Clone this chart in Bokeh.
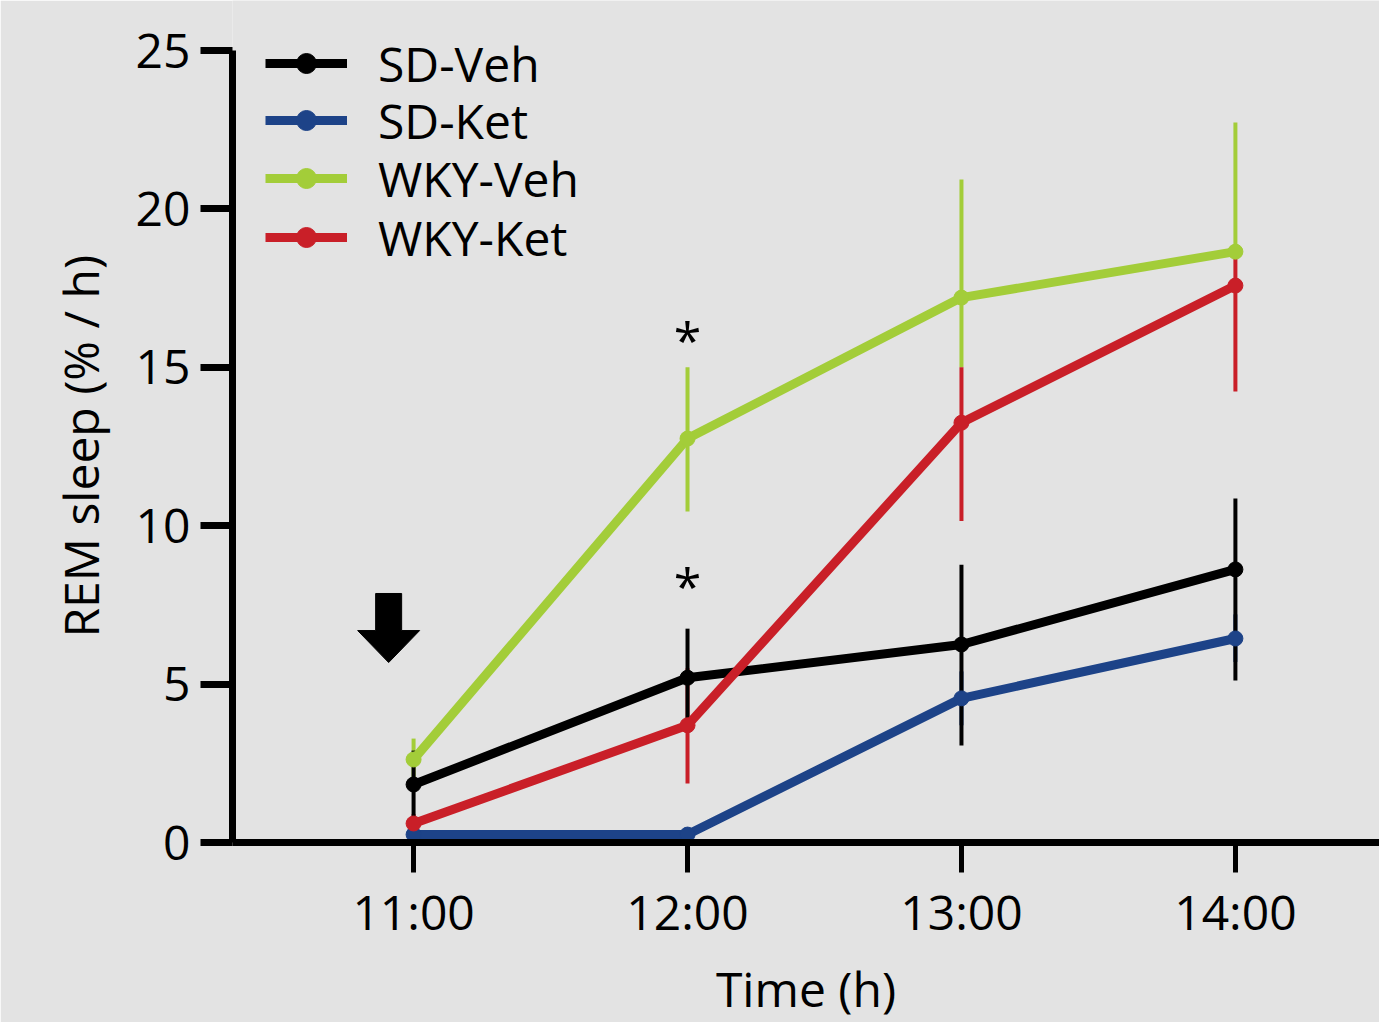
from bokeh.plotting import figure
from bokeh.models import Legend, LegendItem, FixedTicker, ColumnDataSource, Title
from bokeh.core.properties import value
from bokeh.embed import file_html
from bokeh.resources import INLINE

# ---- data ----
times = [11, 12, 13, 14]
time_labels = ["11:00", "12:00", "13:00", "14:00"]
series_names = ["SD-Veh", "SD-Ket", "WKY-Veh", "WKY-Ket"]

sd_veh = [1.83, 5.2, 6.25, 8.62]
sd_veh_hi = [2.9, 6.75, 8.77, 10.86]
sd_veh_lo = [0.8, 3.65, 3.06, 5.11]

sd_ket = [0.25, 0.25, 4.55, 6.44]
sd_ket_hi = [0.3, 0.3, 5.4, 7.2]
sd_ket_lo = [0.2, 0.2, 3.7, 5.7]

wky_veh = [2.62, 12.75, 17.2, 18.65]
wky_veh_hi = [3.28, 15.0, 20.93, 22.73]
wky_veh_lo = [1.96, 10.45, 15.0, 18.65]

wky_ket = [0.6, 3.7, 13.25, 17.58]
wky_ket_hi = [0.9, 5.5, 15.0, 18.6]
wky_ket_lo = [0.3, 1.86, 10.15, 14.24]

y_ticks = [0, 5, 10, 15, 20, 25]

star_x = [12, 12]
star_y = [15.85, 8.1]

arrow_x = 10.909
arrow_top = 7.86
arrow_base = 6.69
arrow_tip = 5.68

# ---- styles ----
BG = "#e3e3e3"
colors = {"SD-Veh": "#000000", "SD-Ket": "#1d4388", "WKY-Veh": "#a3cd39", "WKY-Ket": "#c91f28"}
FONT = "Open Sans"
FRAME_H = 842
PX_PER_UNIT = 792 / 25.0

p = figure(width=1379, height=1022, output_backend="svg", toolbar_location=None,
           x_range=(10.339, 14.526), y_range=(0, FRAME_H / PX_PER_UNIT),
           frame_width=1147, frame_height=FRAME_H,
           min_border_left=232, min_border_right=0, min_border_top=0, min_border_bottom=180)
p.background_fill_color = BG
p.border_fill_color = BG
p.outline_line_color = None
p.xgrid.grid_line_color = None
p.ygrid.grid_line_color = None

# axes
p.xaxis.ticker = FixedTicker(ticks=times)
p.xaxis.major_label_overrides = {t: l for t, l in zip(times, time_labels)}
p.yaxis.ticker = FixedTicker(ticks=y_ticks)
p.yaxis.bounds = (y_ticks[0], y_ticks[-1])
for ax in (p.xaxis[0], p.yaxis[0]):
    ax.axis_line_color = "black"
    ax.axis_line_width = 7
    ax.major_tick_line_color = "black"
    ax.minor_tick_line_color = None
    ax.major_tick_in = 0
    ax.major_label_text_font = FONT
    ax.major_label_text_font_size = "48px"
    ax.major_label_text_color = "black"
    ax.axis_label_text_font = FONT
    ax.axis_label_text_font_size = "48px"
    ax.axis_label_text_font_style = "normal"
    ax.axis_label_text_color = "black"
p.xaxis.major_tick_line_width = 5
p.xaxis.major_tick_out = 30
p.xaxis.major_label_standoff = 6
p.xaxis.axis_label = "Time (h)"
p.xaxis.axis_label_standoff = 9
p.yaxis.major_tick_line_width = 7
p.yaxis.major_tick_out = 32
p.yaxis.major_label_standoff = 10

# y-axis title, placed along the 0-25 span of the axis
ytitle = Title(text="REM sleep (% / h)", align="left", offset=205, standoff=40,
               text_font=FONT, text_font_size="48px", text_font_style="normal",
               text_color="black")
p.add_layout(ytitle, "left")

# error bars
err = [("WKY-Veh", wky_veh_lo, wky_veh_hi), ("WKY-Ket", wky_ket_lo, wky_ket_hi),
       ("SD-Ket", sd_ket_lo, sd_ket_hi), ("SD-Veh", sd_veh_lo, sd_veh_hi)]
for name, lo, hi in err:
    p.segment(x0=times, y0=lo, x1=times, y1=hi, line_color=colors[name], line_width=4)

# lines + markers
vals = {"SD-Veh": sd_veh, "SD-Ket": sd_ket, "WKY-Veh": wky_veh, "WKY-Ket": wky_ket}
rends = {}
for name in ["SD-Ket", "SD-Veh", "WKY-Ket", "WKY-Veh"]:
    src = ColumnDataSource(dict(x=times, y=vals[name]))
    l = p.line("x", "y", source=src, line_color=colors[name], line_width=9)
    s = p.scatter("x", "y", source=src, marker="circle", size=15,
                  fill_color=colors[name], line_color=colors[name])
    rends[name] = [l, s]

# asterisks
p.text(x=star_x, y=star_y, text=["*", "*"], text_font=value(FONT), text_font_size="50px",
       text_align="center", text_baseline="alphabetic", text_color="black")

# arrow (annotation)
px_per_h = 1147 / (14.526 - 10.339)
sw = 13 / px_per_h
hw = 31 / px_per_h
p.patch(x=[arrow_x - sw, arrow_x + sw, arrow_x + sw, arrow_x + hw, arrow_x, arrow_x - hw, arrow_x - sw],
        y=[arrow_top, arrow_top, arrow_base, arrow_base, arrow_tip, arrow_base, arrow_base],
        fill_color="black", line_color="black", line_width=1)

# legend: one entry per row, placed at the reference's row centres
row_centres = [63, 120, 178, 237]
ITEM_H = 65.4
for n, c in zip(series_names, row_centres):
    lg = Legend(items=[LegendItem(label=n, renderers=rends[n])],
                location=(33, FRAME_H - c - ITEM_H / 2), glyph_width=82, glyph_height=50,
                spacing=0, label_standoff=31, label_text_font=FONT,
                label_text_font_size="48px", label_text_color="black",
                padding=0, margin=0, border_line_color=None, background_fill_alpha=0)
    p.add_layout(lg, "center")

open("out.html", "w").write(file_html(p, INLINE))
